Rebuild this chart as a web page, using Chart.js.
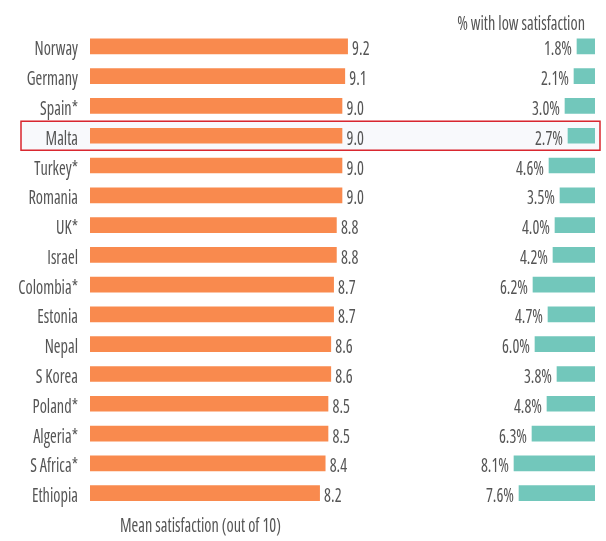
<!DOCTYPE html>
<html><head><meta charset="utf-8">
<script src="https://cdn.jsdelivr.net/npm/chart.js@4.4.1/dist/chart.umd.min.js"></script>
<style>html,body{margin:0;padding:0;background:#fff;}#wrap{position:relative;width:606px;height:541px;}</style>
</head><body><div id="wrap"><canvas id="c" width="606" height="541"></canvas></div>
<script>
const countries = ["Norway","Germany","Spain*","Malta","Turkey*","Romania","UK*","Israel","Colombia*","Estonia","Nepal","S Korea","Poland*","Algeria*","S Africa*","Ethiopia"];
const meanSatisfaction = [9.2,9.1,9.0,9.0,9.0,9.0,8.8,8.8,8.7,8.7,8.6,8.6,8.5,8.5,8.4,8.2];
const lowSatisfaction = [1.8,2.1,3.0,2.7,4.6,3.5,4.0,4.2,6.2,4.7,6.0,3.8,4.8,6.3,8.1,7.6];
const highlightCountry = "Malta";
const headerRight = "% with low satisfaction";
const footerLeft = "Mean satisfaction (out of 10)";

const FAMILY = '"Open Sans", sans-serif';
const FONT = 'condensed 16.3px ' + FAMILY;
const TXT = '#555555';
const VSCALE = 1.18;

function txt(ctx, s, x, baseY, align) {
  ctx.save();
  ctx.font = FONT;
  ctx.fontStretch = 'condensed';
  ctx.fillStyle = TXT;
  ctx.textBaseline = 'alphabetic';
  ctx.textAlign = align;
  ctx.translate(x, baseY);
  ctx.scale(1, VSCALE);
  ctx.fillText(s, 0, 0);
  ctx.restore();
}

const overlay = {
  id: 'overlay',
  beforeDraw(chart) {
    const ctx = chart.ctx, y = chart.scales.y;
    const i = countries.indexOf(highlightCountry);
    const cy = y.getPixelForValue(i);
    ctx.save();
    ctx.fillStyle = '#f8f9fc';
    ctx.fillRect(21, cy - 14.5, 579, 29);
    ctx.restore();
  },
  afterDatasetsDraw(chart) {
    const ctx = chart.ctx, y = chart.scales.y;
    y.ticks.forEach((t, k) => {
      const cy = y.getPixelForTick(k);
      txt(ctx, y.getLabelForValue(t.value), y.right - 12, cy + 9, 'right');
    });
    const m0 = chart.getDatasetMeta(0), m1 = chart.getDatasetMeta(1);
    m0.data.forEach((el, i) => {
      txt(ctx, meanSatisfaction[i].toFixed(1), el.x + 4.5, el.y + 9, 'left');
    });
    m1.data.forEach((el, i) => {
      txt(ctx, lowSatisfaction[i].toFixed(1) + '%', el.x - 5, el.y + 9, 'right');
    });
    txt(ctx, headerRight, 585, 30, 'right');
    txt(ctx, footerLeft, 120, 532, 'left');
    const i = countries.indexOf(highlightCountry);
    const cy = y.getPixelForValue(i);
    ctx.save();
    ctx.strokeStyle = '#d9262e';
    ctx.lineWidth = 1.5;
    ctx.strokeRect(21, cy - 14.5, 579, 29);
    ctx.restore();
  }
};

new Chart(document.getElementById('c'), {
  type: 'bar',
  data: {
    labels: countries,
    datasets: [
      { data: meanSatisfaction, backgroundColor: '#f98a4e', xAxisID: 'x', grouped: false, barThickness: 15 },
      { data: lowSatisfaction, backgroundColor: '#72c7bb', xAxisID: 'x2', grouped: false, barThickness: 15 }
    ]
  },
  options: {
    indexAxis: 'y',
    responsive: false,
    animation: false,
    devicePixelRatio: 1,
    layout: { padding: { left: 0, right: 11, top: 31.5, bottom: 33 } },
    plugins: { legend: { display: false }, tooltip: { enabled: false } },
    scales: {
      x: { display: false, min: 0, max: 505 / 28 },
      x2: { display: false, min: 0, max: 50.5, reverse: true },
      y: {
        grid: { display: false, drawTicks: false },
        border: { display: false },
        ticks: { display: false },
        afterFit(s) { s.width = 90; }
      }
    }
  },
  plugins: [overlay]
});
</script></body></html>
